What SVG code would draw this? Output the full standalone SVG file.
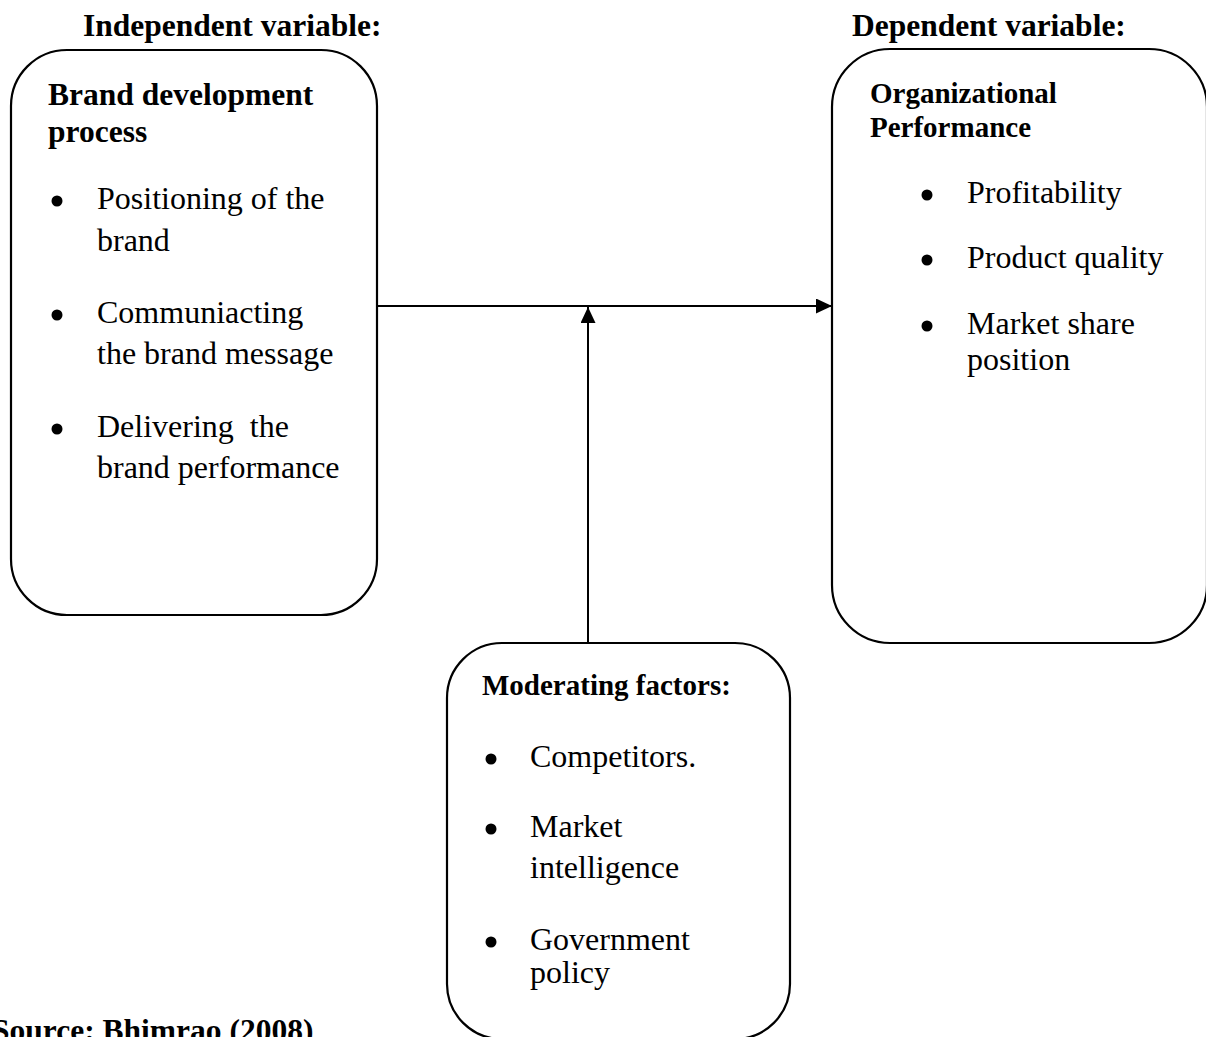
<svg xmlns="http://www.w3.org/2000/svg" width="1206" height="1037" viewBox="0 0 1206 1037">
<style>
.box{fill:#fff;stroke:#000;stroke-width:2.2}
.h{font-family:"Liberation Serif","Times New Roman",serif;font-weight:bold;font-size:31.5px;fill:#000}
.hs{font-family:"Liberation Serif","Times New Roman",serif;font-weight:bold;font-size:29px;fill:#000}
.t{font-family:"Liberation Serif","Times New Roman",serif;font-size:32px;fill:#000;white-space:pre}
.b{fill:#000}
.c{stroke:#000;stroke-width:2;fill:none}
</style>
<defs>
<marker id="ah" markerWidth="17" markerHeight="15" refX="16" refY="7.5" orient="auto" markerUnits="userSpaceOnUse">
<path d="M0,0 L16,7.5 L0,15 Z" fill="#000"/>
</marker>
</defs>
<rect width="1206" height="1037" fill="#fff"/>
<text class="h" x="83" y="36">Independent variable:</text>
<text class="h" x="852" y="36">Dependent variable:</text>
<g id="connectors">
<line class="c" x1="377" y1="306" x2="832" y2="306" marker-end="url(#ah)"/>
<line class="c" x1="588" y1="643" x2="588" y2="307" marker-end="url(#ah)"/>
</g>
<g id="independent">
<rect class="box" x="11" y="50" width="366" height="565" rx="56" ry="56"/>
<text class="h" x="48" y="105">Brand development</text>
<text class="h" x="48" y="142">process</text>
<circle class="b" cx="57" cy="201" r="5.5"/>
<text class="t" x="97" y="209">Positioning of the</text>
<text class="t" x="97" y="251">brand</text>
<circle class="b" cx="57" cy="315" r="5.5"/>
<text class="t" x="97" y="323">Communiacting</text>
<text class="t" x="97" y="364">the brand message</text>
<circle class="b" cx="57" cy="429" r="5.5"/>
<text class="t" x="97" y="437">Delivering  the</text>
<text class="t" x="97" y="478">brand performance</text>
</g>
<g id="dependent">
<rect class="box" x="832" y="49" width="375" height="594" rx="58" ry="58"/>
<text class="hs" x="870" y="103">Organizational</text>
<text class="hs" x="870" y="137">Performance</text>
<circle class="b" cx="927" cy="195" r="5.5"/>
<text class="t" x="967" y="203">Profitability</text>
<circle class="b" cx="927" cy="260" r="5.5"/>
<text class="t" x="967" y="268">Product quality</text>
<circle class="b" cx="927" cy="326" r="5.5"/>
<text class="t" x="967" y="334">Market share</text>
<text class="t" x="967" y="370">position</text>
</g>
<g id="moderating">
<rect class="box" x="447" y="643" width="343" height="396" rx="55" ry="55"/>
<text class="hs" x="482" y="695">Moderating factors:</text>
<circle class="b" cx="491" cy="759" r="5.5"/>
<text class="t" x="530" y="767">Competitors.</text>
<circle class="b" cx="491" cy="829" r="5.5"/>
<text class="t" x="530" y="837">Market</text>
<text class="t" x="530" y="878">intelligence</text>
<circle class="b" cx="491" cy="942" r="5.5"/>
<text class="t" x="530" y="950">Government</text>
<text class="t" x="530" y="983">policy</text>
</g>
<text class="h" x="-8" y="1041">Source: Bhimrao (2008)</text>
</svg>
